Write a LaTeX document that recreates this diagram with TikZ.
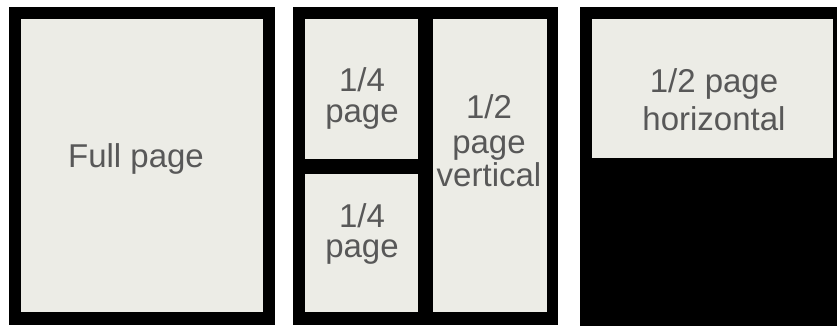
\documentclass[tikz,border=0pt]{standalone}
\usepackage{fontspec}
\setmainfont{Liberation Sans}
\definecolor{paper}{HTML}{ECECE6}
\definecolor{ink}{HTML}{585858}
\begin{document}
\begin{tikzpicture}[x=1pt,y=-1pt,
  frame/.style={fill=black},
  cell/.style={fill=paper},
  lbl/.style={anchor=base,inner sep=0pt,text=ink,font=\fontsize{33}{33}\selectfont}]
\useasboundingbox[fill=white] (0,0) rectangle (837,326);
% panel 1
\fill[frame] (9,7) rectangle (275,325);
\fill[cell] (21,19) rectangle (263,312);
\node[lbl] (full) at (136,167) {Full page};
% panel 2
\fill[frame] (293,7) rectangle (558,325);
\fill[cell] (305,19) rectangle (418,159);
\fill[cell] (305,174) rectangle (418,312);
\fill[cell] (433,19) rectangle (547,312);
\node[lbl] (q1a) at (362,92) {1/4};
\node[lbl] (q1b) at (362,123) {page};
\node[lbl] (q2a) at (362,227) {1/4};
\node[lbl] (q2b) at (362,257) {page};
\node[lbl] (va) at (489,118) {1/2};
\node[lbl] (vb) at (489,153) {page};
\node[lbl] (vc) at (489,186) {vertical};
% panel 3
\fill[frame] (580,7) rectangle (837,326);
\fill[cell] (592,19) rectangle (833,158);
\node[lbl] (ha) at (714,93) {1/2 page};
\node[lbl] (hb) at (714,130) {horizontal};
\end{tikzpicture}
\end{document}
